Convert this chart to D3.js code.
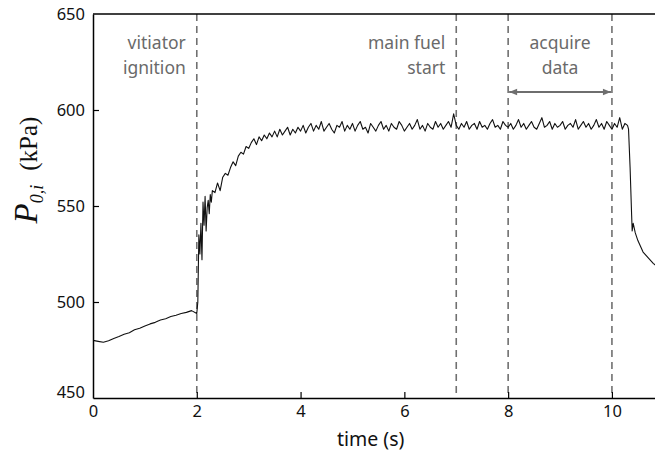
<!DOCTYPE html>
<html>
<head>
<meta charset="utf-8">
<script src="https://cdn.jsdelivr.net/npm/d3@7"></script>
<style>
  body { margin: 0; background: #fff; }
  svg text { font-family: "Noto Sans", "Open Sans", sans-serif; }
</style>
</head>
<body>
<div id="chart"></div>
<script>
// ---------------------------------------------------------------------------
// Data

// time axis ticks (s) and pressure ticks (kPa)
const xTicks = [0, 2, 4, 6, 8, 10];
const yTicks = [450, 500, 550, 600, 650];

// before vitiator ignition: t = 0 .. 2.0, every 0.1 s
const preStart = 0, preStep = 0.1;
const preIgnition = [480, 479.5, 479, 479.8, 481, 482, 483.2, 484, 485.5, 486.3,
  487.5, 488.6, 489.4, 490.6, 491.3, 492.4, 493.1, 494, 494.6, 495.5, 494];

// ignition transient: t = 2.02 .. 2.30, every 0.02 s
const ignStart = 2.02, ignStep = 0.02;
const ignition = [500, 535, 525, 541, 522, 552, 540, 555, 537, 549, 553, 546, 556, 552, 558];

// ramp up: t = 2.35 .. 3.00, every 0.05 s
const rampStart = 2.35, rampStep = 0.05;
const rampUp = [557, 562, 558, 565, 567, 566, 570, 573, 571, 576, 578, 577, 581, 580];

// plateau: t = 3.05 .. 10.30, every 0.05 s
const plateauStart = 3.05, plateauStep = 0.05;
const plateau = [
  583, 585, 582, 586, 584, 587, 585, 588, 586, 589,
  586, 590, 587, 589, 591, 587, 590, 588, 591, 589,
  592, 588, 591, 593, 589, 592, 590, 594, 589, 591,
  593, 590, 588, 592, 591, 594, 589, 592, 590, 593,
  589, 592, 594, 590, 591, 588, 593, 591, 589, 592,
  594, 590, 592, 589, 593, 591, 590, 594, 592, 589,
  591, 593, 590, 592, 595, 590, 592, 589, 593, 591,
  590, 594, 591, 593, 590, 592, 594, 591, 598, 592,
  590, 593, 591, 594, 590, 592, 593, 590, 594, 591,
  592, 590, 593, 595, 591, 592, 590, 594, 592, 591,
  593, 590, 592, 595, 591, 593, 590, 592, 594, 591,
  590, 593, 596, 591, 592, 594, 590, 593, 591, 592,
  594, 590, 592, 593, 591, 595, 590, 592, 594, 591,
  593, 590, 592, 595, 591, 593, 590, 594, 592, 590,
  593, 591, 596, 590, 593, 592
];

// shutdown
const shutdownTime = [10.32, 10.35, 10.38, 10.39, 10.41, 10.45, 10.5, 10.55, 10.6, 10.7, 10.8, 10.85];
const shutdown = [590, 570, 545, 537, 541, 536, 532, 529, 526, 523, 520, 519];

// event markers (s)
const eventTimes = [2, 7, 8, 10];
const eventLabels = [
  { t: 2, lines: ['vitiator', 'ignition'], anchor: 'end' },
  { t: 7, lines: ['main fuel', 'start'], anchor: 'end' },
  { t: 9, lines: ['acquire', 'data'], anchor: 'middle' }
];
const acquireWindow = [8, 10];

// ---------------------------------------------------------------------------
// Build series

function segment(t0, dt, values) {
  return values.map((v, i) => ({ t: t0 + i * dt, p: v }));
}

const series = [].concat(
  segment(preStart, preStep, preIgnition),
  segment(ignStart, ignStep, ignition),
  segment(rampStart, rampStep, rampUp),
  segment(plateauStart, plateauStep, plateau),
  shutdownTime.map((t, i) => ({ t: t, p: shutdown[i] }))
);

// ---------------------------------------------------------------------------
// Chart

const width = 655, height = 455;
const margin = { top: 14, right: 0, bottom: 57, left: 93 };
const innerW = width - margin.left - margin.right;
const innerH = height - margin.top - margin.bottom;

const x = d3.scaleLinear().domain([0, 10.83]).range([0, innerW]);
const y = d3.scaleLinear().domain([450, 650]).range([innerH, 0]);

const svg = d3.select('#chart')
  .append('svg')
  .attr('width', width)
  .attr('height', height);

svg.append('defs').append('clipPath')
  .attr('id', 'clip')
  .append('rect')
  .attr('width', innerW)
  .attr('height', innerH);

const defs = svg.select('defs');
defs.append('marker')
  .attr('id', 'arrow')
  .attr('viewBox', '0 0 10 10')
  .attr('refX', 10).attr('refY', 5)
  .attr('markerWidth', 12).attr('markerHeight', 8)
  .attr('markerUnits', 'userSpaceOnUse')
  .attr('orient', 'auto-start-reverse')
  .append('path')
  .attr('d', 'M0,1L10,5L0,9Z')
  .attr('fill', '#6e6e6e');

const g = svg.append('g')
  .attr('transform', `translate(${margin.left},${margin.top})`);

// dashed event lines
g.selectAll('.event')
  .data(eventTimes)
  .enter()
  .append('line')
  .attr('class', 'event')
  .attr('x1', d => x(d)).attr('x2', d => x(d))
  .attr('y1', 0).attr('y2', innerH)
  .attr('stroke', '#707070')
  .attr('stroke-width', 1.6)
  .attr('stroke-dasharray', '7,5');

// pressure trace
const line = d3.line()
  .x(d => x(d.t))
  .y(d => y(d.p));

g.append('path')
  .datum(series)
  .attr('clip-path', 'url(#clip)')
  .attr('d', line)
  .attr('fill', 'none')
  .attr('stroke', '#111')
  .attr('stroke-width', 1.1)
  .attr('stroke-linejoin', 'round');

// annotations
eventLabels.forEach(function(ev) {
  const tx = ev.anchor === 'end' ? x(ev.t) - 11 : x(ev.t);
  const txt = g.append('text')
    .attr('text-anchor', ev.anchor)
    .attr('fill', '#6a6a6a')
    .style('font-size', '17.5px');
  ev.lines.forEach(function(s, i) {
    txt.append('tspan')
      .attr('x', tx)
      .attr('y', 35 + i * 25)
      .text(s);
  });
});

g.append('line')
  .attr('x1', x(acquireWindow[0]) + 1).attr('x2', x(acquireWindow[1]) - 1)
  .attr('y1', 78).attr('y2', 78)
  .attr('stroke', '#6e6e6e')
  .attr('stroke-width', 2)
  .attr('marker-start', 'url(#arrow)')
  .attr('marker-end', 'url(#arrow)');

// axes
const xAxis = d3.axisBottom(x).tickValues(xTicks).tickSizeInner(-6).tickSizeOuter(0).tickPadding(14);
const yAxis = d3.axisLeft(y).tickValues(yTicks).tickSizeInner(-6).tickSizeOuter(0).tickPadding(14);

const gx = g.append('g')
  .attr('transform', `translate(0,${innerH})`)
  .call(xAxis);
const gy = g.append('g').call(yAxis);

[gx, gy].forEach(function(a) {
  a.select('.domain').attr('stroke', '#000').attr('stroke-width', 1.5);
  a.selectAll('.tick line').attr('stroke', '#000').attr('stroke-width', 1.2);
  a.selectAll('.tick text')
    .attr('fill', '#111')
    .style('font-family', '"Noto Sans", sans-serif')
    .style('font-size', '16.5px');
});
gx.selectAll('.tick text').attr('dy', '0.35em').attr('y', 13);
gy.selectAll('.tick text').attr('x', -8);
gy.selectAll('.tick').filter(d => d === 450).select('text').attr('dy', '-0.05em');
gy.selectAll('.tick').filter(d => d === 650 || d === 450).select('line').remove();
gx.selectAll('.tick').filter(d => d === 0).select('line').remove();

// top frame
g.append('line')
  .attr('x1', 0).attr('x2', innerW)
  .attr('y1', 0).attr('y2', 0)
  .attr('stroke', '#000')
  .attr('stroke-width', 1.5);

// axis titles
svg.append('text')
  .attr('x', margin.left + x(5.35))
  .attr('y', 446)
  .attr('text-anchor', 'middle')
  .attr('fill', '#111')
  .style('font-size', '19.5px')
  .text('time (s)');

const yl = svg.append('text')
  .attr('transform', 'translate(37,170) rotate(-90)')
  .attr('text-anchor', 'middle')
  .attr('fill', '#111')
  .style('font-family', '"Liberation Serif", "DejaVu Serif", serif');
yl.append('tspan').style('font-style', 'italic').style('font-size', '33px').text('P');
yl.append('tspan').style('font-style', 'italic').style('font-size', '18px').attr('dy', 6).text('0,i');
yl.append('tspan').style('font-size', '25px').attr('dy', -6).attr('dx', 14).text('(kPa)');
</script>
</body>
</html>
